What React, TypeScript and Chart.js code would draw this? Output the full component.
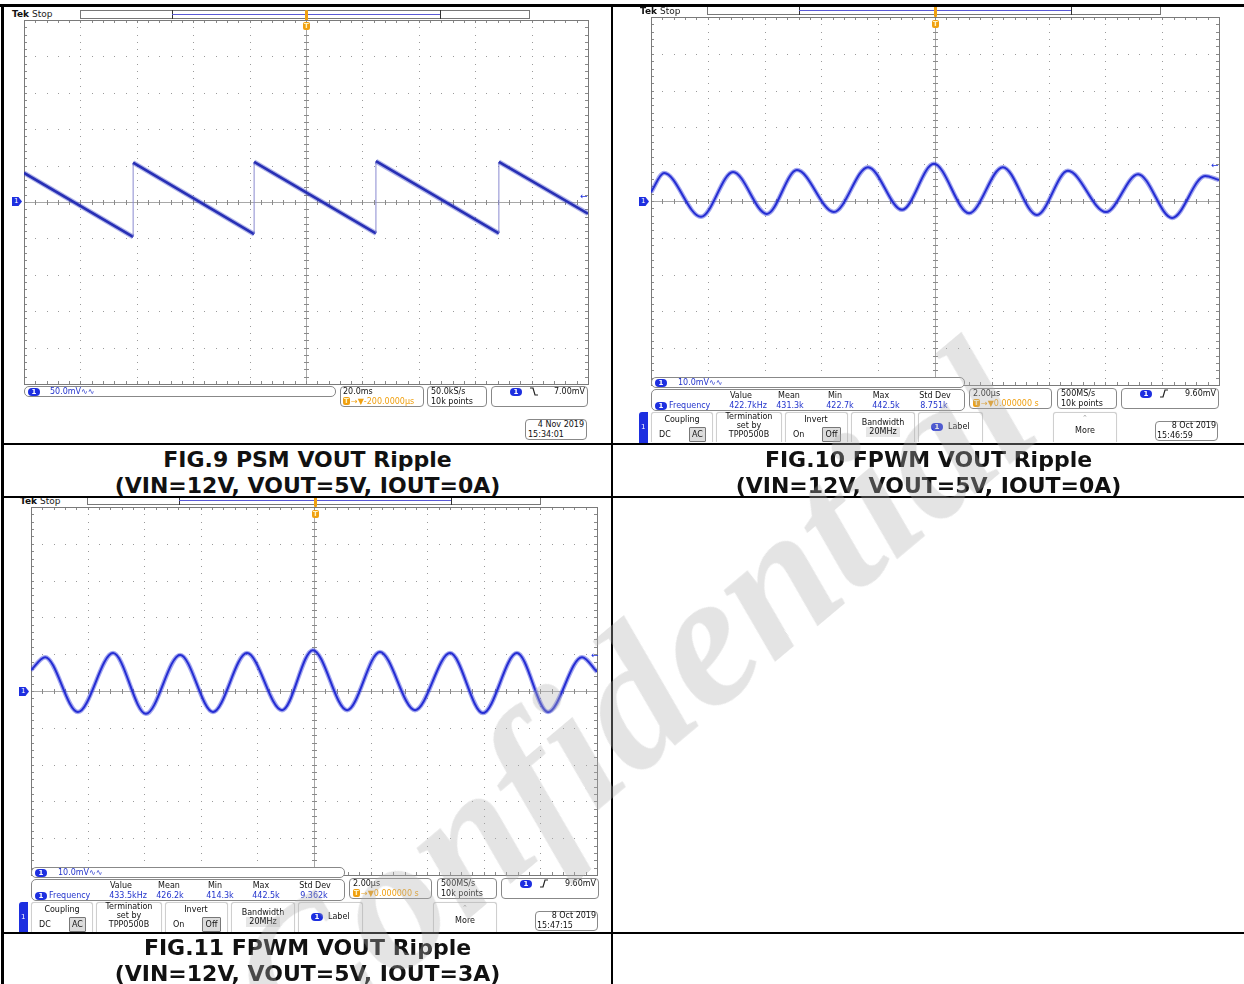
import React, { useEffect, useRef } from "react";
import { Chart, registerables } from "chart.js";

Chart.register(...registerables);

// ---------------- DATA ----------------
// FIG.9 PSM ripple (sawtooth), time in ms (20 ms/div), voltage in mV (50 mV/div)
const fig9Time = [-100, -61.3, -61.3, -18.4, -18.4, 24.8, 24.8, 68.4, 68.4, 100];
const fig9Volt = [40, -48, 54, -44, 55, -43, 56, -43, 55, -16];

// FIG.10 FPWM ripple IOUT=0A, time in µs (2 µs/div), voltage in mV (10 mV/div)
const fig10Time = [-10.0, -9.54, -8.24, -7.11, -5.92, -4.86, -3.56, -2.36, -1.16, -0.04, 1.2, 2.39, 3.59, 4.68, 6.02, 7.15, 8.35, 9.51, 10.0];
const fig10Volt = [2.4, 7.6, -4.3, 7.9, -3.5, 8.4, -3.0, 9.2, -2.4, 10.1, -3.3, 9.2, -3.8, 8.2, -3.0, 7.3, -4.6, 6.8, 5.7];

// FIG.11 FPWM ripple IOUT=3A
const fig11Time = [-10.0, -9.5, -8.34, -7.1, -5.94, -4.73, -3.57, -2.37, -1.13, -0.04, 1.17, 2.33, 3.57, 4.81, 5.97, 7.17, 8.27, 9.47, 10.0];
const fig11Volt = [5.7, 9.2, -5.7, 10.3, -6.2, 9.8, -5.7, 10.3, -5.2, 11.1, -5.2, 10.6, -5.2, 10.3, -6.0, 10.3, -5.7, 9.2, 5.2];

const captions = [
  ["FIG.9 PSM VOUT Ripple", "(VIN=12V, VOUT=5V, IOUT=0A)"],
  ["FIG.10 FPWM VOUT Ripple", "(VIN=12V, VOUT=5V, IOUT=0A)"],
  ["FIG.11 FPWM VOUT Ripple", "(VIN=12V, VOUT=5V, IOUT=3A)"],
];

const measHeaders = ["Value", "Mean", "Min", "Max", "Std Dev"];
const fig10Meas = ["422.7kHz", "431.3k", "422.7k", "442.5k", "8.751k"];
const fig11Meas = ["433.5kHz", "426.2k", "414.3k", "442.5k", "9.362k"];

// ---------------- STYLE ----------------
const FONT = '"DejaVu Sans", "Noto Sans", sans-serif';
const BLUE = "#1d2fe0";
const TXTBLUE = "#2233cc";
const ORANGE = "#f0a010";
const PAD = 4;

const graticulePlugin = {
  id: "graticule",
  beforeDatasetsDraw(chart: any) {
    const { ctx, chartArea } = chart;
    const { left, top, right, bottom } = chartArea;
    const w = right - left;
    const h = bottom - top;
    ctx.save();
    ctx.fillStyle = "#9a9a9a";
    for (let i = 1; i < 10; i++) {
      if (i === 5) continue;
      const x = Math.round(left + (w * i) / 10);
      for (let k = 1; k < 50; k++) {
        const y = Math.round(top + (h * k) / 50);
        ctx.fillRect(x, y, 1, 1);
      }
    }
    for (let j = 1; j < 10; j++) {
      if (j === 5) continue;
      const y = Math.round(top + (h * j) / 10);
      for (let k = 1; k < 50; k++) {
        const x = Math.round(left + (w * k) / 50);
        ctx.fillRect(x, y, 1, 1);
      }
    }
    const cx = Math.round(left + w / 2) + 0.5;
    const cy = Math.round(top + h / 2) + 0.5;
    ctx.strokeStyle = "#a8a8a8";
    ctx.lineWidth = 1;
    ctx.beginPath();
    ctx.moveTo(cx, top);
    ctx.lineTo(cx, bottom);
    ctx.moveTo(left, cy);
    ctx.lineTo(right, cy);
    ctx.stroke();
    ctx.strokeStyle = "#8a8a8a";
    ctx.beginPath();
    for (let k = 1; k < 50; k++) {
      const x = Math.round(left + (w * k) / 50) + 0.5;
      ctx.moveTo(x, cy - 2.5);
      ctx.lineTo(x, cy + 2.5);
      ctx.moveTo(x, top);
      ctx.lineTo(x, top + 3);
      ctx.moveTo(x, bottom);
      ctx.lineTo(x, bottom - 3);
    }
    for (let k = 1; k < 50; k++) {
      const y = Math.round(top + (h * k) / 50) + 0.5;
      ctx.moveTo(cx - 2.5, y);
      ctx.lineTo(cx + 2.5, y);
      ctx.moveTo(left, y);
      ctx.lineTo(left + 3, y);
      ctx.moveTo(right, y);
      ctx.lineTo(right - 3, y);
    }
    ctx.stroke();
    ctx.strokeStyle = "#7a7a7a";
    ctx.strokeRect(Math.round(left) + 0.5, Math.round(top) + 0.5, Math.round(w), Math.round(h));
    ctx.restore();
  },
};

type G = { x: number; y: number; w: number; h: number };

function ScopeChart({ g, xMin, xMax, yMin, yMax, xs, ys, kind }: any) {
  const ref = useRef<HTMLCanvasElement>(null);
  useEffect(() => {
    const pts = xs.map((x: number, i: number) => ({ x, y: ys[i] }));
    const vertical = (c: any) => c.p0.parsed.x === c.p1.parsed.x;
    const datasets: any[] =
      kind === "saw"
        ? [
            {
              data: pts,
              borderColor: "rgba(60,70,200,0.4)",
              borderWidth: 5,
              pointRadius: 0,
              tension: 0,
              segment: {
                borderWidth: (c: any) => (vertical(c) ? 0 : 5),
                borderColor: (c: any) => (vertical(c) ? "rgba(0,0,0,0)" : "rgba(60,70,200,0.4)"),
              },
            },
            {
              data: pts,
              borderColor: "#1a20a8",
              borderWidth: 2.6,
              pointRadius: 0,
              tension: 0,
              segment: {
                borderWidth: (c: any) => (vertical(c) ? 1 : 2.6),
                borderColor: (c: any) => (vertical(c) ? "#8a8ad0" : "#1a20a8"),
              },
            },
          ]
        : [
            {
              data: pts,
              borderColor: "rgba(50,60,220,0.45)",
              borderWidth: 4.5,
              cubicInterpolationMode: "monotone",
              pointRadius: 0,
            },
            {
              data: pts,
              borderColor: "#1a22cc",
              borderWidth: 2,
              cubicInterpolationMode: "monotone",
              pointRadius: 0,
            },
          ];
    const chart = new Chart(ref.current as HTMLCanvasElement, {
      type: "line",
      data: { datasets },
      options: {
        animation: false,
        responsive: false,
        maintainAspectRatio: false,
        events: [],
        layout: { padding: PAD },
        plugins: { legend: { display: false }, tooltip: { enabled: false } },
        scales: {
          x: { type: "linear", min: xMin, max: xMax, display: false },
          y: { type: "linear", min: yMin, max: yMax, display: false },
        },
      } as any,
      plugins: [graticulePlugin],
    });
    return () => chart.destroy();
  }, []);
  const W = g.w + 2 * PAD;
  const H = g.h + 2 * PAD;
  return (
    <canvas
      ref={ref}
      width={W}
      height={H}
      style={{ position: "absolute", left: g.x - PAD, top: g.y - PAD, width: W, height: H }}
    />
  );
}

// ---------------- SMALL UI PIECES ----------------
const Txt = ({ x, y, c = "#111", s = 8, w, align, children, bold, bg }: any) => (
  <div
    style={{
      position: "absolute",
      left: x,
      top: y,
      width: w,
      textAlign: align,
      color: c,
      fontSize: s,
      lineHeight: `${s + 1}px`,
      fontFamily: FONT,
      whiteSpace: "nowrap",
      fontWeight: bold ? "bold" : "normal",
      background: bg,
    }}
  >
    {children}
  </div>
);

const CTxt = ({ cx, y, ...rest }: any) => <Txt x={cx - 40} w={80} align="center" y={y} {...rest} />;

const Box = ({ x, y, w, h, r = 4, border = "#888", bg = "#fff", style }: any) => (
  <div
    style={{
      position: "absolute",
      left: x,
      top: y,
      width: w,
      height: h,
      boxSizing: "border-box",
      border: `1px solid ${border}`,
      borderRadius: r,
      background: bg,
      ...style,
    }}
  />
);

const Pill = ({ x, y }: any) => (
  <div
    style={{
      position: "absolute",
      left: x,
      top: y,
      width: 12,
      height: 8,
      borderRadius: 4,
      background: BLUE,
      color: "#fff",
      fontSize: 7,
      lineHeight: "8px",
      textAlign: "center",
      fontFamily: FONT,
      fontWeight: "bold",
    }}
  >
    1
  </div>
);

const TBadge = ({ x, y }: any) => (
  <div
    style={{
      position: "absolute",
      left: x,
      top: y,
      width: 7,
      height: 8,
      borderRadius: 2,
      background: ORANGE,
      color: "#fff3c0",
      fontSize: 7,
      lineHeight: "8px",
      textAlign: "center",
      fontFamily: FONT,
      fontWeight: "bold",
    }}
  >
    T
  </div>
);

const Ground = ({ x, y }: any) => (
  <div
    style={{
      position: "absolute",
      left: x,
      top: y,
      width: 10,
      height: 9,
      background: BLUE,
      clipPath: "polygon(0 0, 65% 0, 100% 50%, 65% 100%, 0 100%)",
      color: "#fff",
      fontSize: 7,
      lineHeight: "9px",
      fontFamily: FONT,
      paddingLeft: 2,
      boxSizing: "border-box",
    }}
  >
    1
  </div>
);

const Edge = ({ x, y, rising }: any) => (
  <svg style={{ position: "absolute", left: x, top: y }} width={8} height={9}>
    <polyline
      points={rising ? "0,8 3,8 5,1 8,1" : "0,1 3,1 5,8 8,8"}
      fill="none"
      stroke="#222"
      strokeWidth={1.2}
    />
  </svg>
);

const TopBar = ({ x, y, w, h, ix0, ix1, tx }: any) => (
  <>
    <Box x={x} y={y} w={w} h={h} r={0} border="#777" />
    <div style={{ position: "absolute", left: ix0, top: y, width: 1, height: h, background: "#333" }} />
    <div style={{ position: "absolute", left: ix1, top: y, width: 1, height: h, background: "#333" }} />
    <div style={{ position: "absolute", left: ix0, top: y + Math.floor(h / 2), width: ix1 - ix0, height: 1, background: "#5a5ad6" }} />
    <div style={{ position: "absolute", left: tx - 1, top: y, width: 3, height: h + 2, background: ORANGE, borderRadius: 1 }} />
  </>
);

const TekStop = ({ x, y }: any) => (
  <div style={{ position: "absolute", left: x, top: y, fontFamily: FONT, fontSize: 9, lineHeight: "10px", color: "#111", whiteSpace: "nowrap" }}>
    <b>Tek</b> <span style={{ color: "#222" }}>Stop</span>
  </div>
);

const LevelArrow = ({ x, y }: any) => <Txt x={x} y={y} c={BLUE} s={9}>←</Txt>;

const MenuBtn = ({ x, y, w, h = 30 }: any) => (
  <Box
    x={x}
    y={y}
    w={w}
    h={h}
    r={3}
    border="#cfcfcf"
    style={{ borderBottom: "none", borderRadius: "3px 3px 0 0", boxShadow: "0 0 1px #ddd" }}
  />
);

// ---------------- SCOPE PANELS ----------------
function Fig9() {
  const g: G = { x: 24, y: 20, w: 564, h: 364 };
  return (
    <>
      <TekStop x={12} y={9} />
      <TopBar x={80} y={10} w={450} h={9} ix0={172} ix1={440} tx={306} />
      <ScopeChart g={g} xMin={-100} xMax={100} yMin={-250} yMax={250} xs={fig9Time} ys={fig9Volt} kind="saw" />
      <TBadge x={303} y={22} />
      <Ground x={12} y={197} />
      <LevelArrow x={580} y={191} />
      <Box x={24} y={386} w={312} h={11} r={5} />
      <Pill x={28} y={387.5} />
      <Txt x={50} y={386.5} c={TXTBLUE}>50.0mV∿∿</Txt>
      <Box x={340} y={386} w={84} h={21} r={4} />
      <Txt x={343} y={387}>20.0ms</Txt>
      <TBadge x={343} y={397} />
      <Txt x={351} y={397} c={ORANGE}>→▼-200.0000µs</Txt>
      <Box x={427} y={386} w={60} h={21} r={4} />
      <Txt x={431} y={387}>50.0kS/s</Txt>
      <Txt x={431} y={397}>10k points</Txt>
      <Box x={491} y={386} w={97} h={21} r={4} />
      <Pill x={510} y={388} />
      <Edge x={530} y={387} rising={false} />
      <Txt x={540} y={387} w={45} align="right">7.00mV</Txt>
      <Box x={525} y={419} w={62} h={21} r={4} />
      <Txt x={528} y={420} w={56} align="right">4 Nov 2019</Txt>
      <Txt x={528} y={430}>15:34:01</Txt>
    </>
  );
}

function FpwmPanel({ dx, dy, g, xs, ys, meas, date, time }: any) {
  const X = (v: number) => v + dx;
  const Y = (v: number) => v + dy;
  const heads = [741, 789, 835, 881, 935];
  const vals = [748, 790, 840, 886, 934];
  return (
    <>
      <TekStop x={X(640)} y={Y(6)} />
      <TopBar x={X(707)} y={Y(6)} w={454} h={9} ix0={X(799)} ix1={X(1071)} tx={X(935)} />
      <ScopeChart g={g} xMin={-10} xMax={10} yMin={-50} yMax={50} xs={xs} ys={ys} kind="sine" />
      <TBadge x={X(932)} y={Y(20)} />
      <Ground x={X(639)} y={Y(197)} />
      <LevelArrow x={X(1211)} y={Y(160)} />
      <Box x={X(651)} y={Y(377)} w={314} h={11} r={5} />
      <Pill x={X(655)} y={Y(378.5)} />
      <Txt x={X(678)} y={Y(377.5)} c={TXTBLUE}>10.0mV∿∿</Txt>
      <Box x={X(651)} y={Y(389)} w={314} h={22} r={5} />
      {measHeaders.map((t, i) => (
        <CTxt key={t} cx={X(heads[i])} y={Y(391)}>{t}</CTxt>
      ))}
      <Pill x={X(655)} y={Y(401.5)} />
      <Txt x={X(669)} y={Y(401)} c={TXTBLUE}>Frequency</Txt>
      {meas.map((t: string, i: number) => (
        <CTxt key={i} cx={X(vals[i])} y={Y(401)} c={TXTBLUE}>{t}</CTxt>
      ))}
      <Box x={X(969)} y={Y(388)} w={83} h={21} r={4} />
      <Txt x={X(973)} y={Y(389)}>2.00µs</Txt>
      <TBadge x={X(973)} y={Y(399)} />
      <Txt x={X(981)} y={Y(399)} c={ORANGE}>→▼0.000000 s</Txt>
      <Box x={X(1057)} y={Y(388)} w={60} h={21} r={4} />
      <Txt x={X(1061)} y={Y(389)}>500MS/s</Txt>
      <Txt x={X(1061)} y={Y(399)}>10k points</Txt>
      <Box x={X(1121)} y={Y(388)} w={98} h={21} r={4} />
      <Pill x={X(1140)} y={Y(390)} />
      <Edge x={X(1160)} y={Y(389)} rising={true} />
      <Txt x={X(1170)} y={Y(389)} w={46} align="right">9.60mV</Txt>
      <div style={{ position: "absolute", left: X(639), top: Y(412), width: 9, height: 31, background: BLUE, borderRadius: "3px 0 0 0" }} />
      <Txt x={X(641)} y={Y(423)} c="#fff" s={7}>1</Txt>
      <MenuBtn x={X(651)} y={Y(412)} w={62} />
      <CTxt cx={X(682)} y={Y(415)}>Coupling</CTxt>
      <Txt x={X(659)} y={Y(430)}>DC</Txt>
      <Box x={X(689)} y={Y(427)} w={17} h={15} r={1} border="#777" bg="#dcdcdc" />
      <CTxt cx={X(697.5)} y={Y(430)}>AC</CTxt>
      <MenuBtn x={X(716)} y={Y(412)} w={66} />
      <CTxt cx={X(749)} y={Y(412)}>Termination</CTxt>
      <CTxt cx={X(749)} y={Y(421)}>set by</CTxt>
      <CTxt cx={X(749)} y={Y(430)}>TPP0500B</CTxt>
      <MenuBtn x={X(785)} y={Y(412)} w={63} />
      <CTxt cx={X(816)} y={Y(415)}>Invert</CTxt>
      <Txt x={X(793)} y={Y(430)}>On</Txt>
      <Box x={X(822)} y={Y(427)} w={19} h={15} r={1} border="#777" bg="#dcdcdc" />
      <CTxt cx={X(831.5)} y={Y(430)}>Off</CTxt>
      <MenuBtn x={X(851)} y={Y(412)} w={64} />
      <CTxt cx={X(883)} y={Y(418)}>Bandwidth</CTxt>
      <div style={{ position: "absolute", left: X(866), top: Y(427), width: 34, height: 10, background: "#e6e6e6" }} />
      <CTxt cx={X(883)} y={Y(427)}>20MHz</CTxt>
      <MenuBtn x={X(918)} y={Y(412)} w={65} />
      <Pill x={X(931)} y={Y(423)} />
      <Txt x={X(948)} y={Y(422)}>Label</Txt>
      <MenuBtn x={X(1053)} y={Y(412)} w={64} />
      <CTxt cx={X(1085)} y={Y(414)} c="#999" s={7}>⌃</CTxt>
      <CTxt cx={X(1085)} y={Y(426)}>More</CTxt>
      <Box x={X(1155)} y={Y(421)} w={63} h={20} r={4} />
      <Txt x={X(1158)} y={Y(421)} w={58} align="right">{date}</Txt>
      <Txt x={X(1157)} y={Y(431)}>{time}</Txt>
    </>
  );
}

// ---------------- APP ----------------
export default function App() {
  const line = (l: number, t: number, w: number, h: number) => (
    <div style={{ position: "absolute", left: l, top: t, width: w, height: h, background: "#000" }} />
  );
  const capStyle = (l: number, t: number, w: number): React.CSSProperties => ({
    position: "absolute",
    left: l,
    top: t,
    width: w,
    textAlign: "center",
    fontFamily: FONT,
    fontWeight: "bold",
    fontSize: 22,
    lineHeight: "26px",
    color: "#111",
    whiteSpace: "nowrap",
  });
  return (
    <div style={{ position: "absolute", left: 0, top: 0, width: 1244, height: 984, background: "#fff", overflow: "hidden" }}>
      <Fig9 />
      <FpwmPanel
        dx={0}
        dy={0}
        g={{ x: 651, y: 17, w: 568, h: 368 }}
        xs={fig10Time}
        ys={fig10Volt}
        meas={fig10Meas}
        date="8 Oct  2019"
        time="15:46:59"
      />
      <FpwmPanel
        dx={-620}
        dy={490}
        g={{ x: 31, y: 507, w: 566, h: 368 }}
        xs={fig11Time}
        ys={fig11Volt}
        meas={fig11Meas}
        date="8 Oct  2019"
        time="15:47:15"
      />
      <div style={capStyle(4, 447, 607)}>
        {captions[0][0]}
        <br />
        {captions[0][1]}
      </div>
      <div style={capStyle(613, 447, 631)}>
        {captions[1][0]}
        <br />
        {captions[1][1]}
      </div>
      <div style={capStyle(4, 935, 607)}>
        {captions[2][0]}
        <br />
        {captions[2][1]}
      </div>
      {line(0, 4, 1244, 3)}
      {line(1, 4, 3, 980)}
      {line(611, 4, 2, 980)}
      {line(1, 443, 1243, 2)}
      {line(1, 496, 1243, 2)}
      {line(1, 932, 1243, 2)}
      <div
        style={{
          position: "absolute",
          left: 630 - 600,
          top: 700 - 150,
          width: 1200,
          height: 300,
          textAlign: "center",
          fontFamily: '"Liberation Serif", "DejaVu Serif", serif',
          fontStyle: "italic",
          fontWeight: "bold",
          fontSize: 190,
          lineHeight: "300px",
          color: "rgba(175,175,175,0.34)",
          transform: "rotate(-40deg)",
          pointerEvents: "none",
          whiteSpace: "nowrap",
        }}
      >
        Confidential
      </div>
    </div>
  );
}
